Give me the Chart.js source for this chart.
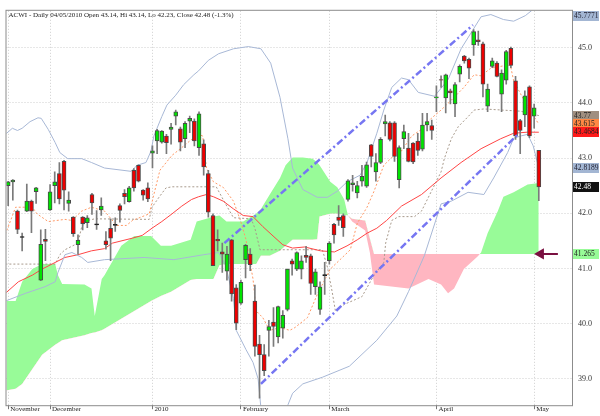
<!DOCTYPE html>
<html><head><meta charset="utf-8">
<script src="https://cdn.jsdelivr.net/npm/chart.js@4.4.1/dist/chart.umd.min.js"></script>
<style>html,body{margin:0;padding:0;background:#fff}canvas{display:block}</style>
</head><body>
<canvas id="c" width="600" height="416"></canvas>
<script>
// ---- categories (trading-day index, 0 = 1 Dec 2009) ----
const firstDay = -9;
const monthTickDays = [-9, 0, 22, 41, 60, 83, 104];
const monthTickLabels = ['November','December','2010','February','March','April','May'];
const priceTicks = [39, 40, 41, 42, 43, 44, 45];
const titleText = 'ACWI - Daily 04/05/2010 Open 43.14, Hi 43.14, Lo 42.23, Close 42.48 (-1.3%)';

// ---- OHLC ----
const opens = [42.50,42.57,42.04,41.57,42.04,42.22,42.39,40.79,41.53,
 42.06,42.50,42.72,42.94,42.18,41.93,41.43,41.93,41.83,42.34,
 41.80,42.06,41.50,41.73,41.79,42.14,42.36,42.21,42.78,42.87,
 42.42,42.46,43.09,43.31,43.29,43.40,43.52,43.76,43.53,43.35,
 43.67,43.67,43.19,43.26,42.72,41.96,41.53,41.30,40.95,41.52,
 40.65,40.37,41.16,41.26,40.41,39.63,39.44,39.88,40.03,39.76,
 39.92,40.26,41.14,40.99,40.99,41.24,41.23,40.67,40.26,40.88,
 41.14,41.80,41.93,41.96,42.25,42.52,42.37,42.58,42.49,43.24,
 42.75,42.92,43.62,43.64,43.64,42.61,43.35,43.18,43.27,43.31,
 43.16,43.60,43.59,44.09,44.42,44.09,44.22,43.98,44.52,44.85,
 44.79,45.05,45.14,45.07,43.94,44.66,44.72,44.16,44.41,44.99,
 44.40,43.68,43.78,44.29,43.76,43.14];
const highs = [42.58,42.61,42.06,41.64,42.53,42.24,42.47,41.70,41.71,
 42.52,42.75,42.92,42.96,42.39,41.94,41.61,41.94,41.96,42.36,
 42.05,42.28,41.67,41.90,41.92,42.17,42.43,42.49,42.81,42.88,
 42.43,42.55,43.22,43.52,43.50,43.43,43.63,43.87,43.56,43.66,
 43.76,43.71,43.84,43.33,42.78,41.99,41.70,41.46,41.40,41.53,
 40.71,40.79,41.44,41.36,40.70,39.79,39.62,40.06,40.29,40.32,
 40.24,40.99,41.17,41.30,41.23,41.40,41.26,40.99,40.76,41.11,
 41.49,41.82,42.14,41.99,42.61,42.69,42.58,42.87,42.93,43.25,
 43.08,43.37,43.78,43.66,43.66,43.22,43.60,43.45,43.28,43.45,
 43.81,43.81,43.69,44.31,44.49,44.52,44.25,44.37,44.69,44.86,
 44.81,45.33,45.30,45.10,44.34,44.81,44.75,44.60,44.95,45.01,
 44.48,43.70,44.22,44.31,43.98,43.14];
const lows = [42.14,42.24,41.63,41.32,42.03,41.65,42.18,40.78,41.14,
 42.05,42.19,42.17,42.06,42.04,41.58,41.26,41.70,41.74,41.98,
 41.71,41.96,41.35,41.14,41.67,41.84,42.17,42.20,42.40,42.57,
 42.24,42.21,42.82,43.08,43.27,43.08,43.25,43.60,43.13,43.19,
 43.46,43.22,43.05,42.69,41.93,41.05,41.32,40.93,40.79,40.41,
 39.89,40.35,40.83,40.96,39.41,38.65,39.06,39.41,39.59,39.65,
 39.74,40.23,40.88,40.96,40.81,41.11,40.53,40.53,40.17,40.53,
 41.08,41.46,41.78,41.58,42.22,42.40,42.28,42.49,42.47,42.84,
 42.58,42.90,43.40,43.31,42.94,42.46,43.17,42.93,42.90,43.05,
 43.13,43.49,43.34,43.84,44.28,43.82,43.98,43.75,44.38,44.72,
 44.44,44.86,45.04,44.11,43.84,44.64,44.47,43.84,44.34,44.64,
 43.34,43.08,43.57,43.37,43.54,42.23];
const closes = [42.57,42.60,41.71,41.57,42.22,42.04,42.46,41.44,41.49,
 42.39,42.57,42.26,42.42,42.24,41.63,41.51,41.81,41.92,42.19,
 41.80,42.13,41.43,41.55,41.79,42.05,42.30,42.46,42.46,42.58,
 42.33,42.26,43.13,43.50,43.49,43.28,43.56,43.84,43.29,43.63,
 43.72,43.31,43.80,42.84,42.02,41.05,41.50,41.26,41.26,40.54,
 40.01,40.75,41.42,41.07,39.59,39.44,39.15,39.95,39.95,40.31,
 40.15,40.99,41.08,41.29,41.14,41.20,40.73,40.94,40.67,40.88,
 41.46,41.61,41.87,41.74,42.59,42.55,42.50,42.67,42.88,43.03,
 42.92,43.34,43.66,43.34,43.03,43.19,43.48,42.94,42.93,43.14,
 43.60,43.66,43.50,44.11,44.41,44.51,44.18,44.33,44.66,44.76,
 44.63,45.29,45.11,44.34,44.25,44.76,44.48,44.54,44.93,44.68,
 43.40,43.50,44.13,43.40,43.91,42.48];

// ---- Bollinger bands ----
const bbUpperX = [-9.6,-8.1,-7,-6,-4.3,-2.6,-1.9,-0.4,1.1,2.1,3.8,6.8,8.9,11.7,17.4,18.7,20.6,21.7,22.3,24,25.1,27,28.7,30.9,31.9,34,36.2,39.4,42.6,45.3,47.4,49.4,51.1,52.1,54.3,57.4,59.6,61.7,63.8,66.6,68.1,70.2,71.7,73.4,75.5,77,79.1,82.6,85.5,88.3,90.9,92.6,94.7,97.4,99.6,102.1,105];
const bbUpper  = [43.43,43.54,43.50,43.54,43.66,43.73,43.72,43.52,43.28,43.10,42.99,42.99,42.92,42.82,42.76,42.87,42.92,43.13,43.40,43.75,43.96,44.14,44.33,44.51,44.58,44.77,44.89,44.98,45.02,44.98,44.72,44.10,43.35,42.82,42.43,42.29,42.29,42.40,42.57,42.69,42.92,43.45,43.87,44.28,44.45,44.42,44.19,44.12,44.42,44.98,45.33,45.56,45.60,45.51,45.48,45.58,45.7771];
const bbLowerX = [-9.6,-5.3,-1.1,1.1,1.7,3.2,4.7,6.8,8.1,11.7,20.2,26.6,33,36.2,37.7,39.4,40,42.1,43.6,44.7,45.1,45.7,48.3,50.2,51.1,52.1,54.3,58.5,64.3,70.2,74.5,77,80.4,84,86.2,89.8,93.2,95.3,98.3,99.6,101.1,102.6,103.8,105];
const bbLower  = [40.41,40.55,40.67,40.76,40.93,41.25,41.29,41.20,41.11,41.16,41.20,41.16,41.25,41.29,41.06,40.46,39.88,39.53,39.30,39.00,38.65,38.12,37.77,38.12,38.53,38.74,38.91,39.03,39.23,39.70,40.14,40.58,41.23,42.17,42.22,42.38,42.34,42.64,43.10,43.36,43.40,43.43,43.22,42.8189];

// ---- moving average (red) ----
const maX = [-9.6,-6.8,-3.8,-1.7,0.4,3.2,6,8.9,11.7,13.4,17.7,19.8,21.9,24,26.2,28.3,30.4,31.9,33.6,35.1,37.2,39.4,41.5,43.6,45.7,47.9,50,52.1,54.7,58.1,61.1,63.8,66,68.1,70.2,72.3,75.5,79.8,84,88.3,92.6,96.8,99.6,102.6,105];
const maRed = [40.55,40.76,40.88,40.99,41.08,41.20,41.25,41.32,41.36,41.46,41.55,41.60,41.73,41.85,41.99,42.13,42.25,42.30,42.34,42.30,42.22,42.08,41.96,41.94,41.76,41.59,41.43,41.37,41.39,41.32,41.30,41.41,41.52,41.64,41.73,41.87,42.13,42.34,42.64,42.92,43.17,43.35,43.45,43.47,43.4684];

// ---- conversion line (orange dotted) ----
const tenkanX = [-9.6,-7.4,-3.8,-2.8,-0.4,3.2,4.7,6.8,8.9,11.7,14.3,16.4,17.7,21.3,22.3,23.6,26.2,28.3,30,31.9,32.8,33.6,35.1,37.2,39.4,40.9,42.1,43.6,44.3,45.7,47.2,49.4,51.5,52.6,55.3,57.4,60.2,62.3,64.5,66,68.1,69.6,71.7,73.4,75.5,77.7,79.8,81.9,84,86.2,88.9,91.1,92.6,94.7,97.4,98.9,99.6,101.1,102.6,105];
const tenkan  = [41.62,42.11,42.11,41.99,41.85,41.89,41.87,42.04,42.11,42.04,41.78,41.78,41.87,41.99,42.34,42.78,43.05,43.19,43.31,43.43,43.40,42.82,42.57,42.47,42.22,41.87,41.52,40.81,40.23,40.11,39.88,39.93,39.88,39.93,40.11,40.53,40.99,41.16,41.34,41.82,42.11,42.40,42.87,43.01,43.13,43.40,43.52,43.72,43.87,44.05,44.28,44.51,44.49,44.63,44.67,44.68,44.40,44.16,43.93,43.615];

// ---- base line (grey dotted) ----
const kijunX = [-9.6,1.1,2.1,3.2,6,6.8,8.1,9.6,21.3,21.9,23.4,24.9,26.2,35.7,37.7,39.4,43.2,44,45.1,58.5,59.6,60.6,61.3,63.2,67,69.6,71.7,72.1,73.4,74.9,78.3,79.8,84,84.7,86.2,87.7,89.8,91.1,93.2,101,105];
const kijun  = [41.08,41.08,41.25,41.34,41.46,41.76,41.87,41.90,41.89,42.11,42.29,42.46,42.48,42.48,42.17,41.92,41.90,41.73,41.34,41.34,41.02,40.58,40.23,40.35,40.49,40.88,41.11,41.46,41.87,41.94,41.94,42.04,42.75,42.99,43.35,43.57,43.75,43.87,43.89,43.85,43.77];

// ---- cloud (leading spans A and B) ----
const cloudX = [-9.6,-7.4,-6,-3.8,-1.7,1.1,1.7,2.6,7.4,8.9,9.6,11.1,11.7,15.3,18.1,21.7,23.8,26,30.2,31.5,33.6,35.1,36.4,37.9,41.5,44.3,45.3,47.2,49.4,50.6,52.1,54.3,56.4,57.4,57.9,60.2,61.7,63.2,64,64.9,67.7,68.7,69.6,77,81.3,84,85.5,86.8,88.9,91.9,92.6,94,96.2,97.4,99.6,102.6,105];
const spanA = [40.41,40.41,40.76,40.99,41.08,41.08,40.88,40.72,40.71,40.64,40.14,40.81,40.88,41.41,41.59,41.59,41.41,41.41,41.52,41.85,41.90,41.94,41.96,41.85,41.85,41.99,42.08,42.34,42.64,42.87,43.01,43.01,42.99,42.92,42.87,42.57,42.47,42.25,41.96,41.85,41.69,41.29,40.71,40.64,40.81,40.71,40.55,40.64,40.99,41.22,41.29,41.64,42.04,42.30,42.38,42.52,42.55];
const spanB = [38.79,38.82,38.91,39.18,39.44,39.62,39.65,39.70,39.79,39.83,39.84,39.88,39.91,40.09,40.23,40.41,40.50,40.58,40.79,40.81,40.81,40.81,41.06,41.08,41.08,41.08,41.23,41.23,41.32,41.41,41.52,41.52,41.52,41.53,41.94,41.99,41.99,41.97,41.96,41.90,41.87,41.55,41.265,41.265,41.265,41.265,41.265,41.265,41.265,41.265,41.265,41.265,41.265,41.265,41.265,41.265,41.265];

// ---- channel lines ----
const channelUpperX = [37.45, 90.85];
const channelUpper  = [41.46, 45.41];
const channelLowerX = [45.3, 100.4];
const channelLower  = [38.91, 43.42];

// ---- arrow marker at span B level ----
const arrowX = [105.4, 109.1];
const arrowY = [41.265, 41.265];

// ---- right-hand value tags ----
const tagValues = [45.7771, 43.77, 43.615, 43.4684, 42.8189, 42.48, 41.265];
const tagText   = ['45.7771','43.77','43.615','43.4684','42.8189','42.48','41.265'];
const tagBg     = ['#a3b6d3','#a08f80','#ff8844','#ff1a1a','#a3b6d3','#111111','#98fb98'];
const tagFg     = ['#223','#222','#222','#222','#223','#ffffff','#222'];

// ---- build ----
const pts = (xs, ys) => xs.map((x, k) => ({x: x, y: ys[k]}));
const days = opens.map((_, k) => firstDay + k);
const bodyData = days.map((d, k) => {
  const o = opens[k], c = closes[k];
  if (Math.abs(c - o) < 0.01) { const m = (o + c) / 2; return {x: d, y: [m - 0.009, m + 0.009]}; }
  return {x: d, y: [Math.min(o, c), Math.max(o, c)]};
});
const bodyColors = days.map((d, k) => {
  const o = opens[k], c = closes[k];
  if (Math.abs(c - o) < 0.01) return '#1a1a1a';
  return c > o ? '#00e400' : '#ee0000';
});
const bodyBorders = days.map((d, k) => Math.abs(closes[k] - opens[k]) < 0.01 ? '#1a1a1a' : '#4a4a4a');
const wickData = days.map((d, k) => ({x: d, y: [lows[k], highs[k]]}));

const SERIF = '"Liberation Serif", "DejaVu Serif", serif';
const lineBase = {type: 'line', pointRadius: 0, borderWidth: 1, fill: false, tension: 0};

const overlayPlugin = {
  id: 'overlay',
  afterDraw(chart) {
    const {ctx, chartArea: a, scales: {y}} = chart;
    ctx.save();
    ctx.strokeStyle = '#8c8c8c'; ctx.lineWidth = 1;
    ctx.strokeRect(a.left - 0.5, a.top - 0.5, a.right - a.left + 1, a.bottom - a.top + 1);
    ctx.font = '7px ' + SERIF; ctx.fillStyle = '#1a1a1a'; ctx.textBaseline = 'top'; ctx.textAlign = 'left';
    ctx.fillText(titleText, a.left + 2, a.top + 1);
    ctx.font = '7.5px ' + SERIF; ctx.textBaseline = 'middle';
    tagValues.forEach((v, k) => {
      let py = y.getPixelForValue(v);
      py = Math.max(a.top + 5, Math.min(a.bottom - 5, py));
      ctx.fillStyle = tagBg[k];
      ctx.fillRect(a.right + 1, Math.round(py) - 5, 26, 10);
      ctx.fillStyle = tagFg[k];
      ctx.fillText(tagText[k], a.right + 2, Math.round(py) + 0.5);
    });
    ctx.restore();
  }
};

new Chart(document.getElementById('c'), {
  type: 'bar',
  data: {
    datasets: [
      Object.assign({}, lineBase, {data: pts(channelUpperX, channelUpper), borderColor: '#7676f2', borderWidth: 2.5, borderDash: [7, 3, 2, 3], order: 0}),
      Object.assign({}, lineBase, {data: pts(channelLowerX, channelLower), borderColor: '#7676f2', borderWidth: 2.5, borderDash: [7, 3, 2, 3], order: 0}),
      Object.assign({}, lineBase, {data: pts(arrowX, arrowY), borderColor: '#7a1040', borderWidth: 2, pointRadius: [4.5, 0], pointStyle: 'triangle', rotation: -90, pointBackgroundColor: '#7a1040', pointBorderColor: '#7a1040', order: 0}),
      {type: 'bar', data: bodyData, backgroundColor: bodyColors, borderColor: bodyBorders, borderWidth: 1, borderSkipped: false, barThickness: 4, grouped: false, order: 1},
      {type: 'bar', data: wickData, backgroundColor: '#7a7a7a', borderWidth: 0, barThickness: 1, grouped: false, order: 2},
      Object.assign({}, lineBase, {data: pts(bbUpperX, bbUpper), borderColor: '#a8b8d6', order: 3}),
      Object.assign({}, lineBase, {data: pts(bbLowerX, bbLower), borderColor: '#a8b8d6', order: 3}),
      Object.assign({}, lineBase, {data: pts(maX, maRed), borderColor: '#ff4545', order: 3}),
      Object.assign({}, lineBase, {data: pts(tenkanX, tenkan), borderColor: '#ff9966', borderDash: [2, 2], order: 3}),
      Object.assign({}, lineBase, {data: pts(kijunX, kijun), borderColor: '#a89a8c', borderDash: [2, 2], order: 3}),
      Object.assign({}, lineBase, {data: pts(cloudX, spanA), borderWidth: 0, borderColor: 'rgba(0,0,0,0)', fill: {target: '+1', above: '#98fb98', below: '#ffb6c1'}, order: 5}),
      Object.assign({}, lineBase, {data: pts(cloudX, spanB), borderWidth: 0, borderColor: 'rgba(0,0,0,0)', order: 6})
    ]
  },
  options: {
    responsive: false, animation: false, devicePixelRatio: 1,
    layout: {padding: {top: 1, left: 1, right: 0, bottom: 0}},
    plugins: {legend: {display: false}, tooltip: {enabled: false}},
    scales: {
      x: {
        type: 'linear', min: -9.36, max: 112.13, offset: false, position: 'bottom',
        afterBuildTicks: s => { s.ticks = monthTickDays.map(v => ({value: v})); },
        afterFit: s => { s.height = 9; },
        grid: {color: '#cfcfcf', offset: false, drawTicks: true, tickLength: 4, tickColor: '#777', tickBorderDash: []},
        border: {display: false, dash: [1, 2]},
        ticks: {autoSkip: false, maxRotation: 0, align: 'start', labelOffset: 2, padding: -4, font: {family: SERIF, size: 7}, color: '#222',
          callback: (v, i) => monthTickLabels[i]}
      },
      y: {
        type: 'linear', position: 'right', min: 38.524, max: 45.668,
        afterBuildTicks: s => { s.ticks = priceTicks.map(v => ({value: v})); },
        afterFit: s => { s.width = 28; },
        grid: {color: '#cfcfcf', drawTicks: false},
        border: {display: false, dash: [1, 2]},
        ticks: {padding: 6, font: {family: SERIF, size: 8}, color: '#333', callback: v => v.toFixed(1)}
      }
    }
  },
  plugins: [overlayPlugin]
});
</script>
</body></html>
